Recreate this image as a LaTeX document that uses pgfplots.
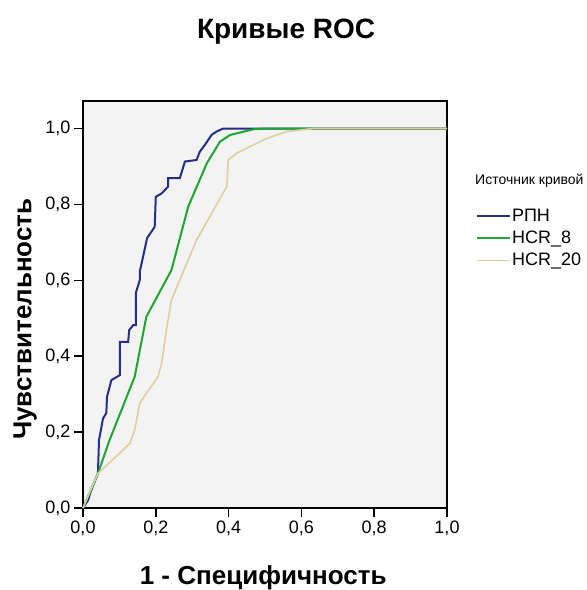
\documentclass[border=0pt]{standalone}
\usepackage{fontspec}
\setmainfont{Liberation Sans}
\usepackage{pgfplots}
\pgfplotsset{compat=1.18}
\definecolor{rocblue}{RGB}{38,46,140}
\definecolor{rocgreen}{RGB}{30,165,50}
\definecolor{roctan}{RGB}{218,208,160}
\definecolor{plotbg}{RGB}{243,243,243}

\begin{document}
\begin{tikzpicture}
\path[use as bounding box] (-83bp,-82bp) rectangle (504bp,508bp);
\begin{axis}[
  scale only axis, width=364bp, height=407bp,
  xmin=0, xmax=1, ymin=0, ymax=1.0725,
  clip=false,
  axis background/.style={fill=plotbg},
  axis line style={line width=2.2bp, black},
  xtick={0,0.2,0.4,0.6,0.8,1}, ytick={0,0.2,0.4,0.6,0.8,1},
  xtick pos=bottom, ytick pos=left,
  tick align=outside, major tick length=9bp,
  tick style={line width=1.6bp, black},
  /pgf/number format/.cd, fixed, fixed zerofill, precision=1, use comma, assume math mode=true,
  /pgfplots/.cd,
  tick label style={font=\fontsize{18bp}{20bp}\selectfont},
  title={Кривые ROC},
  title style={font=\bfseries\fontsize{28bp}{32bp}\selectfont, at={(0.558,1.155)}, anchor=center},
  xlabel={1 - Специфичность},
  xlabel style={font=\bfseries\fontsize{26bp}{29bp}\selectfont, at={(0.495,-0.172)}, anchor=center},
  ylabel={Чувствительность},
  ylabel style={font=\bfseries\fontsize{26bp}{29bp}\selectfont, at={(-0.159,0.464)}, anchor=center},
  legend style={at={(1.071,0.744)}, anchor=north west, draw=none, fill=none,
    font=\fontsize{18bp}{20bp}\selectfont, row sep=4bp,
    nodes={inner xsep=1bp}},
  legend cell align=left,
  legend image code/.code={\draw[#1] (0bp,0bp) -- (33bp,0bp);},
]
\addplot[rocblue, line width=2bp] coordinates {
(0,0) (0.014,0.021) (0.02,0.04) (0.041,0.091) (0.044,0.179) (0.055,0.236) (0.064,0.25)
(0.066,0.293) (0.078,0.337) (0.101,0.35) (0.101,0.438) (0.124,0.438) (0.127,0.469)
(0.138,0.482) (0.145,0.482) (0.145,0.566) (0.156,0.601) (0.156,0.623) (0.165,0.662)
(0.176,0.711) (0.197,0.741) (0.2,0.82) (0.216,0.829) (0.234,0.847) (0.234,0.869)
(0.266,0.869) (0.28,0.913) (0.312,0.917) (0.321,0.939) (0.335,0.957) (0.353,0.983)
(0.367,0.992) (0.385,1.0) (1,1)
};
\addlegendentry{РПН}
\addplot[rocgreen, line width=2bp] coordinates {
(0,0) (0.041,0.091) (0.073,0.179) (0.142,0.346) (0.174,0.504) (0.243,0.627)
(0.289,0.794) (0.34,0.908) (0.376,0.965) (0.404,0.983) (0.468,0.998) (0.5,1) (1,1)
};
\addlegendentry{HCR\_8}
\addplot[roctan, line width=1.6bp] coordinates {
(0,0) (0.041,0.091) (0.129,0.17) (0.142,0.206) (0.156,0.276) (0.174,0.302)
(0.206,0.346) (0.216,0.381) (0.229,0.469) (0.243,0.548) (0.266,0.601) (0.312,0.706)
(0.395,0.847) (0.399,0.917) (0.422,0.935) (0.505,0.974) (0.56,0.992) (0.633,1.0) (1,1)
};
\addlegendentry{HCR\_20}
\node[anchor=west, inner sep=0pt, font=\fontsize{14bp}{16bp}\selectfont] at (rel axis cs:1.077,0.804) {Источник кривой};
\end{axis}
\end{tikzpicture}
\end{document}
